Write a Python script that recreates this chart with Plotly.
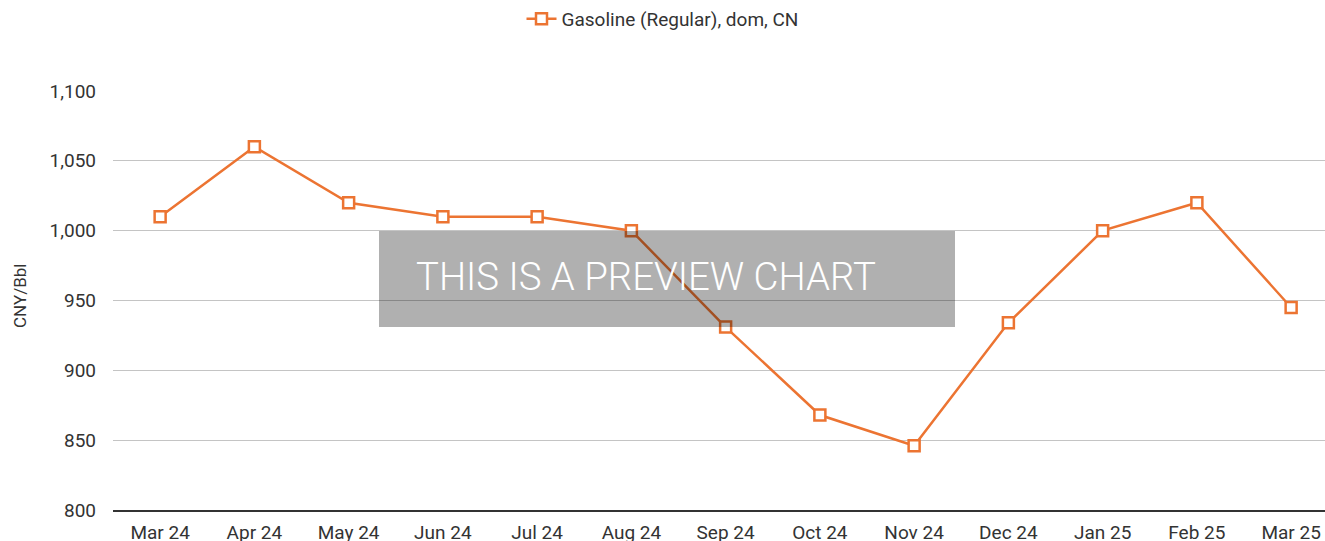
import plotly.graph_objects as go

categories = ["Mar 24", "Apr 24", "May 24", "Jun 24", "Jul 24", "Aug 24", "Sep 24",
              "Oct 24", "Nov 24", "Dec 24", "Jan 25", "Feb 25", "Mar 25"]
gasoline = [1010, 1060, 1020, 1010, 1010, 1000, 931, 868, 846, 934, 1000, 1020, 945]
series_name = "Gasoline (Regular), dom, CN"
y_ticks = [800, 850, 900, 950, 1000, 1050, 1100]

W, H = 1325, 541
L, R, T, B = 113, 0, 91, 31
pw = W - L - R
ph = H - T - B

orange = "#ec7432"

fig = go.Figure()
fig.add_trace(go.Scatter(
    x=list(range(len(categories))), y=gasoline, name=series_name,
    mode="lines+markers",
    line=dict(color=orange, width=2.5),
    marker=dict(symbol="square", size=11, color="white", line=dict(width=2.5, color=orange)),
))

def px_x(px):
    return (px - L) / pw

def px_y(py):
    return (H - B - py) / ph

fig.add_shape(type="rect", xref="paper", yref="paper",
              x0=px_x(379), x1=px_x(955), y0=px_y(327), y1=px_y(231),
              fillcolor="rgba(0,0,0,0.31)", line=dict(width=0), layer="above")
fig.add_annotation(xref="paper", yref="paper", x=px_x(414), y=px_y(276),
                   xanchor="left", yanchor="middle", showarrow=False,
                   text="THIS IS A PREVIEW CHART",
                   font=dict(family="Roboto", size=38.4, color="white", weight=300))
fig.add_annotation(xref="paper", yref="paper", x=px_x(20), y=px_y(296),
                   xanchor="center", yanchor="middle", showarrow=False, textangle=-90,
                   text="CNY/Bbl", font=dict(family="Roboto", size=17, color="#333"))

fig.update_layout(
    width=W, height=H,
    margin=dict(l=L, r=R, t=T, b=B, autoexpand=False),
    paper_bgcolor="white", plot_bgcolor="white",
    font=dict(family="Roboto", size=19, color="#333"),
    showlegend=True,
    legend=dict(orientation="h", xref="container", yref="container", x=0.5, xanchor="center",
                y=1.0, yanchor="top", font=dict(size=19, color="#333"), itemwidth=30),
    xaxis=dict(
        tickmode="array", tickvals=list(range(len(categories))), ticktext=categories,
        range=[-0.5, -0.5 + pw / ((1291 - 160) / 12)],
        showgrid=False, showline=True, linecolor="#333", linewidth=1.5,
        ticks="", zeroline=False, tickfont=dict(size=19, color="#333"),
        automargin=False, ticklabelstandoff=4,
    ),
    yaxis=dict(
        range=[800, 1100], tickvals=y_ticks, tickformat=",",
        showgrid=True, gridcolor="#c4c4c4", gridwidth=1,
        zeroline=False, showline=False, ticks="", ticklabelstandoff=16,
        tickfont=dict(size=19, color="#333"), automargin=False,
    ),
)

fig.write_html("out.html", config={"displayModeBar": False},
               post_script="document.body.style.margin='0';document.body.style.overflow='hidden';")
